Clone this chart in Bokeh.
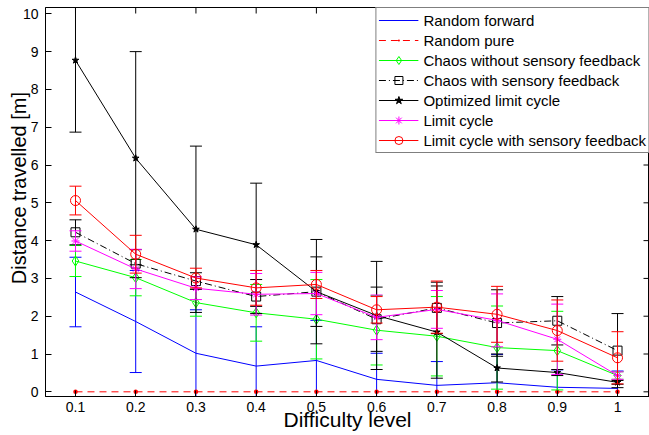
import math
from bokeh.plotting import figure
from bokeh.models import FixedTicker, Legend, LegendItem, Range1d
from bokeh.embed import file_html
from bokeh.resources import INLINE

# ---------------- data ----------------
difficulty = [0.1, 0.2, 0.3, 0.4, 0.5, 0.6, 0.7, 0.8, 0.9, 1.0]
x_tick_labels = ["0.1", "0.2", "0.3", "0.4", "0.5", "0.6", "0.7", "0.8", "0.9", "1"]
y_ticks = [0, 1, 2, 3, 4, 5, 6, 7, 8, 9, 10]

random_forward = [2.64, 1.86, 1.02, 0.68, 0.83, 0.33, 0.17, 0.24, 0.12, 0.09]
random_forward_err = [0.92, 1.35, 1.15, 1.04, 1.06, 0.69, 0.63, 0.75, 0.46, 0.46]

random_pure = [0, 0, 0, 0, 0, 0, 0, 0, 0, 0]

chaos_no_fb = [3.46, 3.02, 2.36, 2.09, 1.92, 1.63, 1.47, 1.17, 1.09, 0.43]
chaos_no_fb_err = [0.41, 0.48, 0.36, 0.75, 1.05, 0.92, 1.05, 1.10, 1.04, 0.10]

chaos_fb = [4.22, 3.39, 2.93, 2.52, 2.65, 1.92, 2.22, 1.82, 1.88, 1.09]
chaos_fb_err = [0.33, 0.37, 0.22, 0.45, 0.92, 0.85, 0.68, 0.88, 0.64, 0.98]

opt_lc = [8.77, 6.18, 4.30, 3.89, 2.65, 2.02, 1.58, 0.63, 0.51, 0.25]
opt_lc_err = [1.90, 2.82, 2.20, 1.63, 1.38, 1.43, 1.22, 0.37, 0.08, 0.05]

lc = [3.99, 3.25, 2.74, 2.58, 2.60, 1.97, 2.18, 1.89, 1.39, 0.43]
lc_err = [0.27, 0.52, 0.30, 0.55, 0.56, 0.59, 0.50, 0.70, 0.93, 0.10]

lc_fb = [5.06, 3.64, 3.01, 2.75, 2.84, 2.17, 2.24, 2.05, 1.62, 0.90]
lc_fb_err = [0.38, 0.50, 0.26, 0.46, 0.37, 0.35, 0.69, 0.74, 0.81, 0.69]

labels = ["Random forward", "Random pure", "Chaos without sensory feedback",
          "Chaos with sensory feedback", "Optimized limit cycle", "Limit cycle",
          "Limit cycle with sensory feedback"]
x_label = "Difficulty level"
y_label = "Distance travelled [m]"

FONT = "Liberation Sans"
X0, X1 = 0.0502, 1.0531
Y0, Y1 = -0.124, 10.167

p = figure(width=649, height=435, output_backend="svg", toolbar_location=None,
           x_range=Range1d(X0, X1), y_range=Range1d(Y0, Y1),
           min_border_left=45, min_border_right=0, min_border_top=7, min_border_bottom=39)
p.background_fill_color = "white"
p.border_fill_color = "white"
p.outline_line_color = "black"
p.outline_line_width = 1
p.xgrid.visible = False
p.ygrid.visible = False

xax = p.xaxis[0]
yax = p.yaxis[0]
xax.ticker = FixedTicker(ticks=difficulty)
yax.ticker = FixedTicker(ticks=y_ticks)
xax.major_label_overrides = {v: s for v, s in zip(difficulty, x_tick_labels)}
for ax in (xax, yax):
    ax.major_tick_in = 6
    ax.major_tick_out = 0
    ax.minor_tick_in = 0
    ax.minor_tick_out = 0
    ax.axis_line_color = "black"
    ax.major_tick_line_color = "black"
    ax.major_label_text_font = FONT
    ax.major_label_text_font_size = "14px"
    ax.major_label_text_color = "black"
    ax.axis_label_text_font = FONT
    ax.axis_label_text_font_style = "normal"
    ax.axis_label_text_color = "black"
xax.major_label_standoff = 5
yax.major_label_standoff = 7
xax.axis_label = x_label
xax.axis_label_text_font_size = "21px"
xax.axis_label_standoff = -7
# leading no-break spaces shift the centred label upward, as in the reference
yax.axis_label = "\u00a0" * 5 + y_label
yax.axis_label_text_font_size = "20px"
yax.axis_label_standoff = -10

# inward ticks on top and right edges (half of a dash clipped by the frame)
p.scatter([X1] * len(y_ticks), y_ticks, marker="dash", size=12, line_color="black")
p.scatter(difficulty, [Y1] * len(difficulty), marker="dash", size=12,
          angle=math.pi / 2, line_color="black")


def draw(ys, errs, color, dash, marker, msize, fill):
    rs = []
    if errs is not None:
        lower = [y - e for y, e in zip(ys, errs)]
        upper = [y + e for y, e in zip(ys, errs)]
        p.segment(x0=difficulty, y0=lower, x1=difficulty, y1=upper,
                  line_color=color, line_width=1)
        p.scatter(difficulty, upper, marker="dash", size=12, line_color=color, line_width=1)
        p.scatter(difficulty, lower, marker="dash", size=12, line_color=color, line_width=1)
    rs.append(p.line(difficulty, ys, line_color=color, line_dash=dash, line_width=1))
    if marker is not None:
        rs.append(p.scatter(difficulty, ys, marker=marker, size=msize,
                            line_color=color, fill_color=fill, line_width=1))
    return rs


r1 = draw(random_forward, random_forward_err, "#0000ff", "solid", None, 0, None)
r2 = draw(random_pure, None, "#ff0000", "7 5", "dot", 18, "#ff0000")
r3 = draw(chaos_no_fb, chaos_no_fb_err, "#00ff00", "solid", "diamond", 10, None)
r4 = draw(chaos_fb, chaos_fb_err, "#000000", "7 3 1 3", "square", 9, None)
r5 = draw(opt_lc, opt_lc_err, "#000000", "solid", "star", 7, "#000000")
r6 = draw(lc, lc_err, "#ff00ff", "solid", "asterisk", 8, None)
r7 = draw(lc_fb, lc_fb_err, "#ff0000", "solid", "circle", 10, None)

items = [LegendItem(label=l, renderers=r) for l, r in zip(labels, [r1, r2, r3, r4, r5, r6, r7])]
legend = Legend(items=items, location="top_right", margin=0, padding=2, spacing=0,
                glyph_width=40, glyph_height=20, label_height=20, label_standoff=5,
                label_text_font=FONT, label_text_font_size="15px", label_text_color="black",
                border_line_color="black", border_line_width=1,
                background_fill_color="white", background_fill_alpha=1)
p.add_layout(legend)

html = file_html(p, INLINE)
open("out.html", "w").write(html)
